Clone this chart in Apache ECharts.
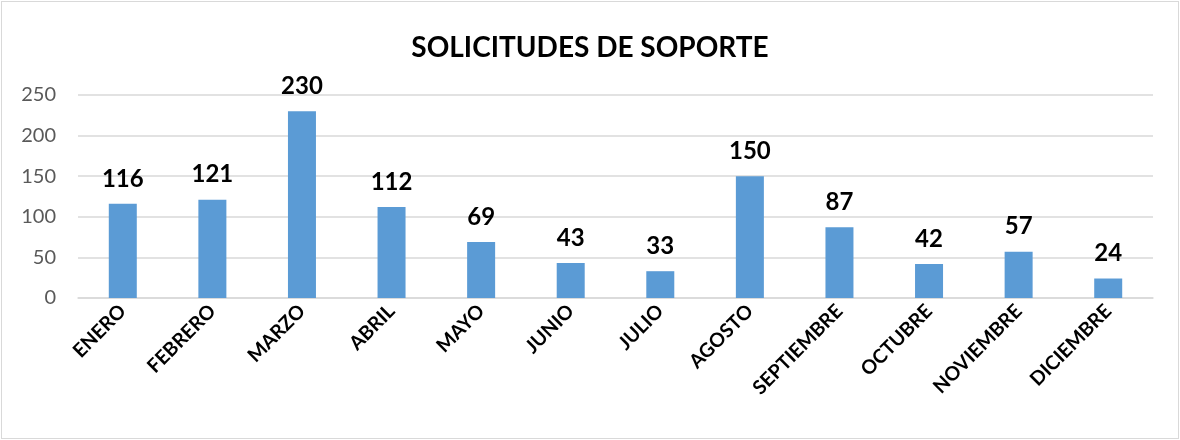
<!DOCTYPE html>
<html>
<head>
<meta charset="utf-8">
<script src="https://cdn.jsdelivr.net/npm/echarts@6/dist/echarts.min.js"></script>
<style>
    html, body { margin: 0; padding: 0; background: #fff; }
    #chart {
        width: 1176px;
        height: 436px;
        margin: 1px;
        border: 1px solid #d9d9d9;
    }
</style>
</head>
<body>
<div id="chart"></div>
<script>
    var meses = ['ENERO', 'FEBRERO', 'MARZO', 'ABRIL', 'MAYO', 'JUNIO', 'JULIO',
        'AGOSTO', 'SEPTIEMBRE', 'OCTUBRE', 'NOVIEMBRE', 'DICIEMBRE'];
    var solicitudes = [116, 121, 230, 112, 69, 43, 33, 150, 87, 42, 57, 24];

    var font = 'Lato, "Open Sans", sans-serif';
    var chart = echarts.init(document.getElementById('chart'));
    chart.setOption({
        animation: false,
        title: {
            text: 'SOLICITUDES DE SOPORTE',
            left: 'center',
            top: 27,
            textStyle: { fontFamily: font, fontSize: 28, fontWeight: 'bold', color: '#000' }
        },
        grid: { left: 76, right: 25, top: 93, bottom: 140 },
        xAxis: {
            type: 'category',
            data: meses,
            axisTick: { show: false },
            axisLine: { lineStyle: { color: '#d9d9d9', width: 1.5 } },
            axisLabel: {
                rotate: 45,
                interval: 0,
                margin: 10,
                fontFamily: font,
                fontSize: 19.5,
                fontWeight: 'bold',
                color: '#000'
            }
        },
        yAxis: {
            type: 'value',
            min: 0,
            max: 250,
            interval: 50,
            axisLine: { show: false },
            axisTick: { show: false },
            splitLine: { lineStyle: { color: '#d9d9d9', width: 1.5 } },
            axisLabel: { margin: 22, fontFamily: font, fontSize: 20, color: '#595959' }
        },
        series: [{
            type: 'bar',
            data: solicitudes,
            barWidth: 28,
            itemStyle: { color: '#5b9bd5' },
            label: {
                show: true,
                position: 'top',
                distance: 13,
                fontFamily: font,
                fontSize: 24,
                fontWeight: 'bold',
                color: '#000'
            }
        }]
    });
</script>
</body>
</html>
